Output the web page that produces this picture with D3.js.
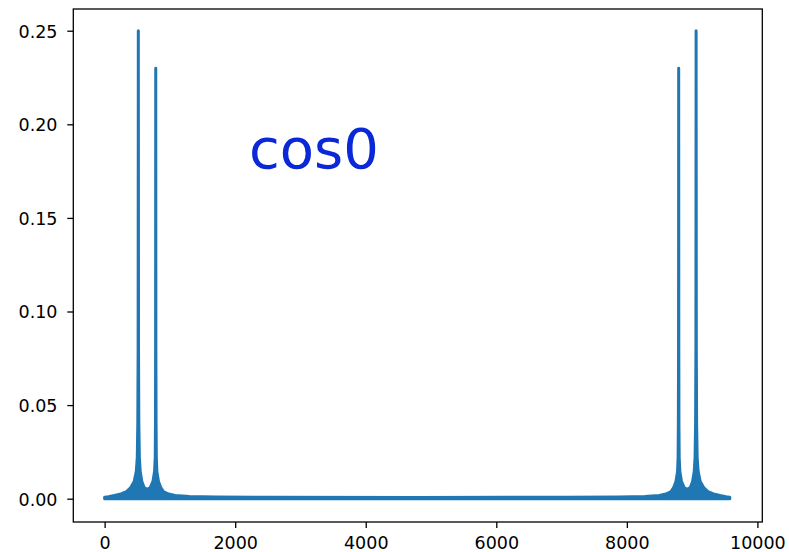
<!DOCTYPE html>
<html>
<head>
<meta charset="utf-8">
<script src="https://cdn.jsdelivr.net/npm/d3@7"></script>
<style>
  html, body { margin: 0; padding: 0; background: #ffffff; }
  svg { display: block; }
</style>
</head>
<body>
<svg id="chart" width="789" height="552"></svg>
<script>
// ---- data ----
const binIndex = [
  0, 60, 150, 250, 335, 400, 453, 485, 500, 508, 513, 516, 519, 524, 532, 545, 570, 605,
  650, 700, 740, 765, 775, 779, 781, 783, 785, 788, 792, 800, 825, 860, 900, 980, 1080,
  1300, 1700, 2500, 4788, 7077, 7877, 8277, 8497, 8597, 8677, 8717, 8752, 8777, 8785,
  8789, 8792, 8794, 8796, 8798, 8802, 8812, 8837, 8877, 8927, 8972, 9007, 9032, 9045,
  9053, 9058, 9061, 9064, 9069, 9077, 9092, 9124, 9177, 9242, 9327, 9427, 9517, 9577
];
const magnitude = [
  0.0008, 0.001, 0.0017, 0.0026, 0.0038, 0.006, 0.0092, 0.0146, 0.022, 0.04, 0.08, 0.25,
  0.08, 0.04, 0.022, 0.0146, 0.0092, 0.006, 0.0049, 0.006, 0.0092, 0.0146, 0.022, 0.04,
  0.08, 0.23, 0.08, 0.04, 0.022, 0.0146, 0.0092, 0.006, 0.0038, 0.0025, 0.0017, 0.0012,
  0.0009, 0.0008, 0.0007, 0.0008, 0.0009, 0.0012, 0.0017, 0.0025, 0.0038, 0.006, 0.0092,
  0.0146, 0.022, 0.04, 0.08, 0.23, 0.08, 0.04, 0.022, 0.0146, 0.0092, 0.006, 0.0049,
  0.006, 0.0092, 0.0146, 0.022, 0.04, 0.08, 0.25, 0.08, 0.04, 0.022, 0.0146, 0.0092,
  0.006, 0.0038, 0.0026, 0.0017, 0.001, 0.0008
];
const xTicks = [0, 2000, 4000, 6000, 8000, 10000];
const yTicks = [0.00, 0.05, 0.10, 0.15, 0.20, 0.25];
const annotation = "cos0";

// ---- layout ----
const svg = d3.select("#chart");
const plot = { left: 73.3, right: 762.3, top: 9, bottom: 522 };
const lineColor = "#1f77b4";
const tickFont = "DejaVu Sans";
const tickSize = 17.5;

const x = d3.scaleLinear().domain([-480, 10075]).range([plot.left, plot.right]);
const y = d3.scaleLinear().domain([-0.01245, 0.2616]).range([plot.bottom, plot.top]);

const points = binIndex.map((k, i) => ({ k: k, v: magnitude[i] }));

// spectrum (dense oscillating data renders as a filled band under its envelope)
const area = d3.area()
  .x(d => x(d.k))
  .y0(y(0))
  .y1(d => y(d.v));

svg.append("path")
  .datum(points)
  .attr("d", area)
  .attr("fill", lineColor)
  .attr("stroke", lineColor)
  .attr("stroke-width", 3)
  .attr("stroke-linejoin", "round")
  .attr("stroke-linecap", "round");

// axes
const xAxis = d3.axisBottom(x).tickValues(xTicks).tickSize(6).tickPadding(9)
  .tickFormat(d3.format("d"));
const yAxis = d3.axisLeft(y).tickValues(yTicks).tickSize(6).tickPadding(9.8)
  .tickFormat(d3.format(".2f"));

const gx = svg.append("g").attr("transform", `translate(0,${plot.bottom})`).call(xAxis);
const gy = svg.append("g").attr("transform", `translate(${plot.left},0)`).call(yAxis);

[gx, gy].forEach(g => {
  g.select(".domain").remove();
  g.selectAll(".tick line").attr("stroke", "#000").attr("stroke-width", 1.3);
  g.selectAll(".tick text")
    .attr("fill", "#000")
    .style("font-family", tickFont)
    .style("font-size", tickSize + "px");
});
gy.selectAll(".tick text").attr("dy", "0.37em");

// frame
svg.append("rect")
  .attr("x", plot.left)
  .attr("y", plot.top)
  .attr("width", plot.right - plot.left)
  .attr("height", plot.bottom - plot.top)
  .attr("fill", "none")
  .attr("stroke", "#000")
  .attr("stroke-width", 1.3);

// annotation
svg.append("text")
  .attr("x", 249)
  .attr("y", 168)
  .attr("fill", "#0a28d8")
  .style("font-family", "DejaVu Sans")
  .style("font-size", "56px")
  .text(annotation);
</script>
</body>
</html>
